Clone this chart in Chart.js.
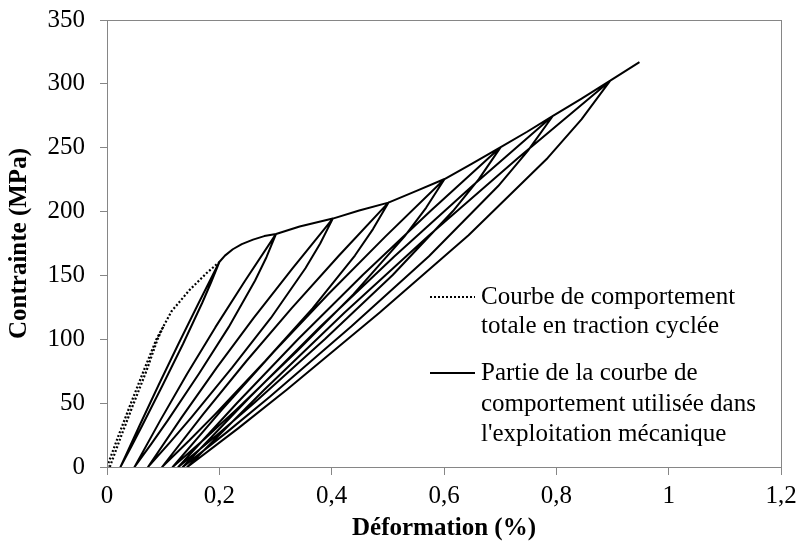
<!DOCTYPE html>
<html>
<head>
<meta charset="utf-8">
<script src="https://cdn.jsdelivr.net/npm/chart.js@4.4.1/dist/chart.umd.min.js"></script>
<style>
html,body{margin:0;padding:0;background:#fff;}
#wrap{position:relative;width:798px;height:547px;}
</style>
</head>
<body>
<div id="wrap"><canvas id="c" width="798" height="547"></canvas></div>
<script>
// Tick labels
const xTickLabels = ['0', '0,2', '0,4', '0,6', '0,8', '1', '1,2'];
const yTickLabels = ['0', '50', '100', '150', '200', '250', '300', '350'];

// Series names (legend)
const seriesNames = [
  ['Courbe de comportement', 'totale en traction cyclée'],
  ['Partie de la courbe de', 'comportement utilisée dans', "l'exploitation mécanique"]
];

// Dotted curve: total behaviour (first loading, with its small first cycle)
const dottedStrain = [0, 0.02, 0.04, 0.065, 0.088, 0.115, 0.147, 0.177, 0.2, null,
                      0.005, 0.025, 0.045, 0.07, 0.09, 0.1003];
const dottedStress = [0, 24, 47, 75, 100, 122, 138.6, 151.7, 160.5, null,
                      0, 24, 47, 75, 100, 110];

// Solid curve: unloading/reloading cycles and envelope, in path order
const solidStrain = [
  0.200, 0.1852, 0.1694, 0.1353, 0.0992, 0.0623, 0.0434, 0.024, 0.0576, 0.0919, 0.1271, 0.1632, 0.200,
  0.21, 0.224, 0.24, 0.26, 0.28, 0.301,
  0.2839, 0.2637, 0.2166, 0.1637, 0.1082, 0.0792, 0.049, 0.0949, 0.1427, 0.1931, 0.2461, 0.301,
  0.343, 0.402,
  0.3796, 0.3533, 0.2918, 0.2227, 0.1503, 0.1125, 0.073, 0.1329, 0.1954, 0.2612, 0.3303, 0.402,
  0.449, 0.501,
  0.4736, 0.4414, 0.366, 0.2814, 0.1927, 0.1464, 0.098, 0.1713, 0.2479, 0.3285, 0.4131, 0.501,
  0.55, 0.601,
  0.5681, 0.5294, 0.4389, 0.3372, 0.2307, 0.1751, 0.117, 0.2051, 0.297, 0.3938, 0.4955, 0.601,
  0.65, 0.701,
  0.662, 0.616, 0.5087, 0.3882, 0.2619, 0.1959, 0.127, 0.2315, 0.3405, 0.4553, 0.5759, 0.701,
  0.748, 0.794,
  0.7492, 0.6965, 0.5732, 0.4348, 0.2899, 0.2141, 0.135, 0.2549, 0.3801, 0.5119, 0.6503, 0.794,
  0.845, 0.896,
  0.8448, 0.7846, 0.6437, 0.4856, 0.32, 0.2334, 0.143, 0.28, 0.4231, 0.5737, 0.7318, 0.896,
  0.948
];
const solidStress = [
  160.5, 144.45, 128.4, 96.3, 64.2, 32.1, 16.05, 0, 32.1, 64.2, 96.3, 128.4, 160.5,
  165.5, 170.5, 174.5, 178, 180.8, 182.5,
  164.25, 146, 109.5, 73, 36.5, 18.25, 0, 36.5, 73, 109.5, 146, 182.5,
  188.3, 194.5,
  175.05, 155.6, 116.7, 77.8, 38.9, 19.45, 0, 38.9, 77.8, 116.7, 155.6, 194.5,
  200.8, 207,
  186.3, 165.6, 124.2, 82.8, 41.4, 20.7, 0, 41.4, 82.8, 124.2, 165.6, 207,
  216, 225.5,
  202.95, 180.4, 135.3, 90.2, 45.1, 22.55, 0, 45.1, 90.2, 135.3, 180.4, 225.5,
  237.5, 250.5,
  225.45, 200.4, 150.3, 100.2, 50.1, 25.05, 0, 50.1, 100.2, 150.3, 200.4, 250.5,
  262.5, 275,
  247.5, 220, 165, 110, 55, 27.5, 0, 55, 110, 165, 220, 275,
  288.5, 302.5,
  272.25, 242, 181.5, 121, 60.5, 30.25, 0, 60.5, 121, 181.5, 242, 302.5,
  317
];

const FONT = "'Liberation Serif', 'Times New Roman', serif";
const toPts = (xs, ys) => xs.map((x, i) => ({x: x, y: ys[i]}));

const frameAndLegend = {
  id: 'frameAndLegend',
  afterDraw(chart) {
    const ctx = chart.ctx, a = chart.chartArea;
    ctx.save();
    ctx.strokeStyle = '#868686';
    ctx.lineWidth = 1;
    ctx.strokeRect(Math.round(a.left) + 0.5, Math.round(a.top) + 0.5,
                   Math.round(a.right - a.left), Math.round(a.bottom - a.top));
    // legend
    const lx0 = a.left + 323, lx1 = a.left + 368, tx = a.left + 374;
    const rows1 = [297, 326], rows2 = [373, 404, 434];
    ctx.strokeStyle = '#000';
    ctx.lineWidth = 2;
    ctx.setLineDash([2, 2]);
    ctx.beginPath(); ctx.moveTo(lx0, rows1[0]); ctx.lineTo(lx1, rows1[0]); ctx.stroke();
    ctx.setLineDash([]);
    ctx.beginPath(); ctx.moveTo(lx0, rows2[0]); ctx.lineTo(lx1, rows2[0]); ctx.stroke();
    ctx.fillStyle = '#000';
    ctx.font = "25px " + FONT;
    ctx.textBaseline = 'middle';
    ctx.textAlign = 'left';
    seriesNames[0].forEach((t, i) => ctx.fillText(t, tx, rows1[i]));
    seriesNames[1].forEach((t, i) => ctx.fillText(t, tx, rows2[i]));
    ctx.restore();
  }
};

new Chart(document.getElementById('c'), {
  type: 'scatter',
  data: {
    datasets: [
      {
        label: 'Courbe de comportement totale en traction cyclée',
        data: toPts(dottedStrain, dottedStress),
        showLine: true, spanGaps: false,
        borderColor: '#000', borderWidth: 2.2, borderDash: [2, 2],
        pointRadius: 0, tension: 0, fill: false
      },
      {
        label: "Partie de la courbe de comportement utilisée dans l'exploitation mécanique",
        data: toPts(solidStrain, solidStress),
        showLine: true,
        borderColor: '#000', borderWidth: 2, borderJoinStyle: 'round',
        pointRadius: 0, tension: 0, fill: false
      }
    ]
  },
  options: {
    responsive: false,
    animation: false,
    devicePixelRatio: 1,
    layout: {padding: {left: 0, top: 20, right: 17, bottom: 0}},
    plugins: {legend: {display: false}, tooltip: {enabled: false}},
    scales: {
      x: {
        type: 'linear', min: 0, max: 1.2,
        ticks: {stepSize: 0.2, color: '#000', font: {family: FONT, size: 25}, padding: 6,
                maxRotation: 0, callback: (v, i) => xTickLabels[i]},
        grid: {drawOnChartArea: false, drawTicks: true, tickLength: 8, color: '#868686'},
        border: {display: true, color: '#868686'},
        title: {display: true, text: 'Déformation (%)', color: '#000',
                font: {family: FONT, size: 25, weight: 'bold'}, padding: {top: 0, bottom: 3}},
        afterFit: (s) => { s.height = 80; s.paddingLeft = 0; s.paddingRight = 0; }
      },
      y: {
        type: 'linear', min: 0, max: 350,
        ticks: {stepSize: 50, color: '#000', font: {family: FONT, size: 25}, padding: 15,
                callback: (v, i) => yTickLabels[i]},
        grid: {drawOnChartArea: false, drawTicks: true, tickLength: 7, color: '#868686'},
        border: {display: true, color: '#868686'},
        title: {display: true, text: 'Contrainte (MPa)', color: '#000',
                font: {family: FONT, size: 25, weight: 'bold'}, padding: {top: 5, bottom: 0}},
        afterFit: (s) => { s.width = 107; s.paddingTop = 0; s.paddingBottom = 0; }
      }
    }
  },
  plugins: [frameAndLegend]
});
</script>
</body>
</html>
